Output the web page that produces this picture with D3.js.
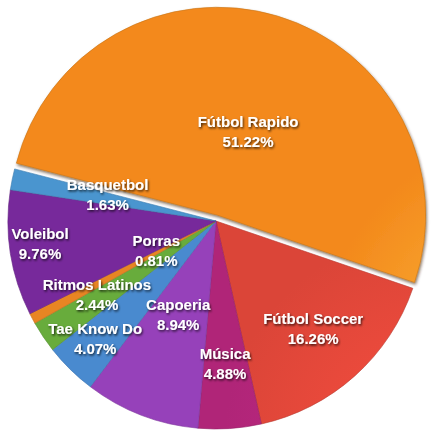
<!DOCTYPE html>
<html>
<head>
<meta charset="utf-8">
<script src="https://cdn.jsdelivr.net/npm/d3@7"></script>
<style>
  html, body { margin: 0; padding: 0; background: #fff; }
  svg { display: block; }
  .lbl { font-family: "Liberation Sans", Arial, sans-serif; font-weight: bold; font-size: 15px; fill: #fff; }
</style>
</head>
<body>
<div class="pie"></div>
<script>
////////////////////////////////// data

var categories = ["Fútbol Rapido", "Fútbol Soccer", "Música", "Capoeria", "Tae Know Do",
                  "Ritmos Latinos", "Porras", "Voleibol", "Basquetbol"];
var percents = [51.22, 16.26, 4.88, 8.94, 4.07, 2.44, 0.81, 9.76, 1.63];
var colors = ["#f6911e", "#e3473a", "#b6267c", "#9b43c1", "#4c8fd7",
              "#6cb23e", "#f08a24", "#7b2ba1", "#4d9ad7"];

// label placement: fraction of radius, and where inside the slice's angle (0..1)
var labelRadius = [0.43, 0.696, 0.689, 0.485, 0.811, 0.674, 0.32, 0.853, 0.537];
var labelAt     = [0.517, 0.495, 0.51, 0.53, 0.587, 0.72, 1.1, 0.546, 0.9];

////////////////////////////////// layout

var width = 431, height = 433;
var cx = 216, cy = 221, radius = 208;
var startAngle = -75.5 * Math.PI / 180;
var explode = 6;

var svg = d3.select(".pie").append("svg")
    .attr("width", width).attr("height", height);

var defs = svg.append("defs");

var shadow = defs.append("filter").attr("id", "txtshadow")
    .attr("x", "-20%").attr("y", "-40%").attr("width", "140%").attr("height", "180%");
shadow.append("feDropShadow").attr("dx", 1).attr("dy", 1.5)
    .attr("stdDeviation", 1).attr("flood-color", "#000").attr("flood-opacity", 0.75);

var sliceShadow = defs.append("filter").attr("id", "sliceshadow")
    .attr("x", "-10%").attr("y", "-10%").attr("width", "120%").attr("height", "120%");
sliceShadow.append("feDropShadow").attr("dx", 1).attr("dy", 2)
    .attr("stdDeviation", 1.5).attr("flood-color", "#3a2000").attr("flood-opacity", 0.6);

// soft lighter centre on each slice, yellow glow on the big orange one
colors.forEach(function(c, i){
    var g = defs.append("radialGradient").attr("id", "grad" + i)
        .attr("gradientUnits", "userSpaceOnUse")
        .attr("cx", i == 0 ? 330 : cx).attr("cy", i == 0 ? 145 : cy)
        .attr("r", i == 0 ? 230 : radius);
    g.append("stop").attr("offset", "0%")
        .attr("stop-color", i == 0 ? "#fdc040" : d3.color(c).brighter(0.25));
    g.append("stop").attr("offset", "100%")
        .attr("stop-color", i == 0 ? "#f3891c" : d3.color(c).darker(0.1));
});

var pie = d3.pie().sort(null).value(function(d){ return d; })
    .startAngle(startAngle).endAngle(startAngle + 2 * Math.PI);
var arcs = pie(percents);

var arc = d3.arc().innerRadius(0).outerRadius(radius);

var chart = svg.append("g").attr("transform", "translate(" + cx + "," + cy + ")");

//only the big slice is pulled out
function offset(d, i){
    if (i != 0) return [0, 0];
    var a = (d.startAngle + d.endAngle) / 2;
    return [Math.sin(a) * explode, -Math.cos(a) * explode];
}

chart.selectAll(".slice").data(arcs).enter().append("path")
    .attr("class", "slice")
    .attr("d", arc)
    .attr("transform", function(d, i){ var o = offset(d, i); return "translate(" + o[0] + "," + o[1] + ")"; })
    .attr("fill", function(d, i){ return "url(#grad" + i + ")"; })
    .attr("stroke", function(d, i){ return d3.color(colors[i]).darker(0.6); })
    .attr("stroke-width", 0.6)
    .attr("filter", function(d, i){ return i == 0 ? "url(#sliceshadow)" : null; });

// orange on top so its shadow falls on the rest
chart.select(".slice").raise();

var labels = chart.selectAll(".lbl").data(arcs).enter().append("text")
    .attr("class", "lbl")
    .attr("text-anchor", "middle")
    .attr("filter", "url(#txtshadow)")
    .attr("transform", function(d, i){
        var a = d.startAngle + (d.endAngle - d.startAngle) * labelAt[i];
        var r = radius * labelRadius[i];
        var o = offset(d, i);
        return "translate(" + (Math.sin(a) * r + o[0]) + "," + (-Math.cos(a) * r + o[1]) + ")";
    });

labels.append("tspan").attr("x", 0).attr("dy", -4.6)
    .text(function(d, i){ return categories[i]; });
labels.append("tspan").attr("x", 0).attr("dy", 20)
    .text(function(d, i){ return percents[i].toFixed(2) + "%"; });
</script>
</body>
</html>
